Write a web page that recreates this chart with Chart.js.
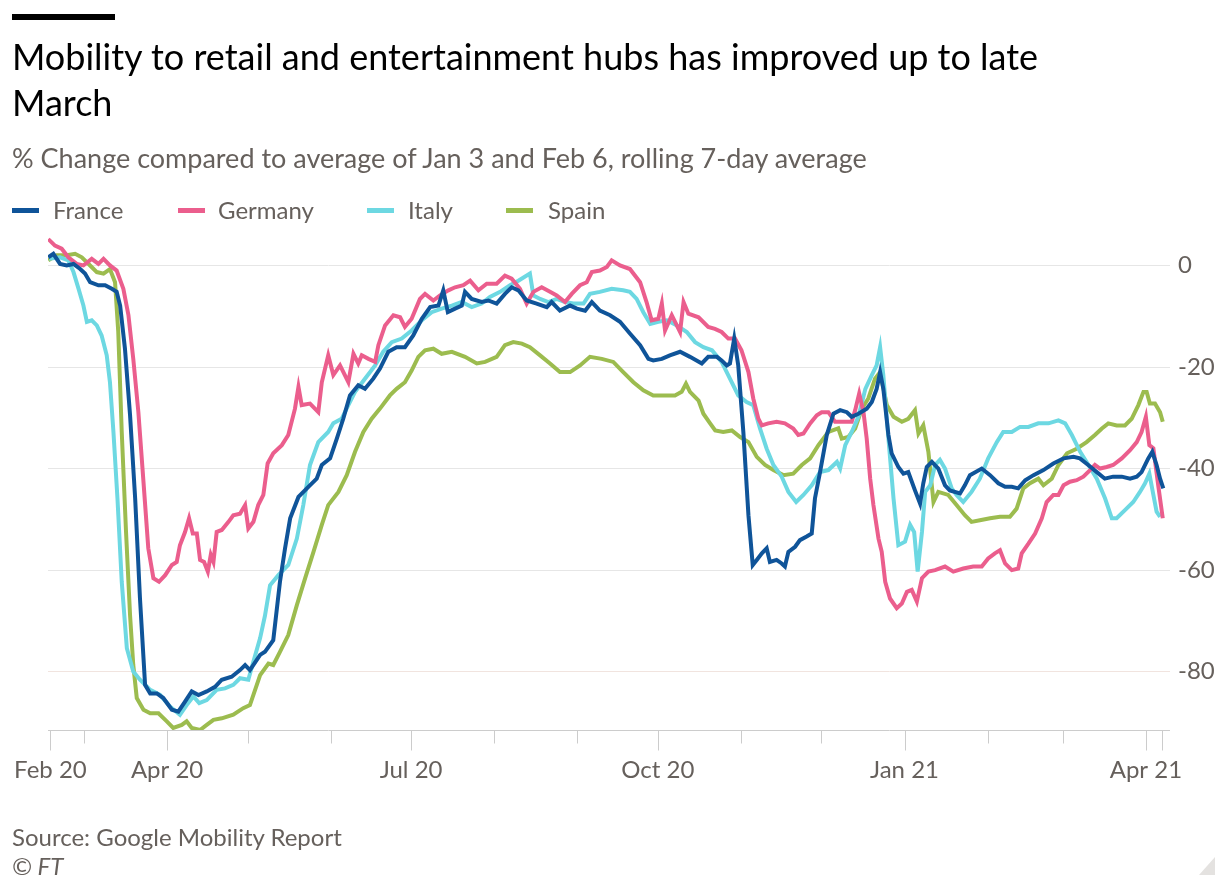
<!DOCTYPE html>
<html>
<head>
<meta charset="utf-8">
<script src="https://cdn.jsdelivr.net/npm/chart.js@4.4.1/dist/chart.umd.min.js"></script>
<style>
  body { margin: 0; background: #fff; width: 1217px; height: 879px; overflow: hidden; font-family: Lato, "Open Sans", sans-serif; }
  .abs { position: absolute; }
  .bar { left: 12px; top: 14px; width: 103px; height: 6px; background: #000; }
  .title { left: 12px; top: 33px; font-size: 36px; line-height: 46px; color: #000; }
  .sub { left: 12px; top: 141px; font-size: 27px; color: #66605c; }
  .legend { left: 12px; top: 195px; font-size: 24px; color: #66605c; }
  .legend span.item { position: absolute; white-space: nowrap; }
  .legend i { position: absolute; top: 13px; width: 27px; height: 5px; }
  .source { left: 12px; top: 822px; font-size: 24px; color: #66605c; }
  .ft { left: 12px; top: 851px; font-size: 24px; color: #66605c; font-style: italic; }
  .corner { right: 2px; bottom: 4px; width: 0; height: 0; border-left: 16px solid transparent; border-bottom: 18px solid #e4e2e0; }
  #box { position: absolute; left: 0; top: 0; width: 1217px; height: 879px; }
</style>
</head>
<body>
<div id="box"><canvas id="chart" width="1217" height="879"></canvas></div>
<div class="abs bar"></div>
<div class="abs title">Mobility to retail and entertainment hubs has improved up to late<br>March</div>
<div class="abs sub">% Change compared to average of Jan 3 and Feb 6, rolling 7-day average</div>
<div class="abs legend" id="legend"></div>
<div class="abs source">Source: Google Mobility Report</div>
<div class="abs ft">© FT</div>
<div class="abs corner"></div>
<script>
// days counted from 15 Feb 2020
const tickDays   = [2.5, 15, 46, 76, 107, 137, 168, 199, 229, 260, 290, 321, 352, 380, 411, 417];
const tickLabels = ['Feb 20', '', 'Apr 20', '', '', 'Jul 20', '', '', 'Oct 20', '', '', 'Jan 21', '', '', 'Apr 21', ''];
const majorTicks = [1, 0, 1, 0, 0, 1, 0, 0, 1, 0, 0, 1, 0, 0, 1, 1];
const yTicks = [0, -20, -40, -60, -80];

const countries = ['France', 'Germany', 'Italy', 'Spain'];
const colors    = ['#0f5499', '#eb5e8d', '#6dd8e2', '#9cbc4f'];

const franceDays = [1.7,3.6,6.1,8.6,11.1,13.6,15.4,17.3,20.4,22.9,25.4,27.2,28.5,30.3,32.2,34.1,35.9,37.8,39.7,42.2,44.6,47.8,50.2,52.7,55.2,57.7,60.8,63.9,66.4,70.1,73.2,75.1,76.9,80.7,82.5,85.6,88.1,90.0,91.9,95.0,98.7,101.8,103.7,106.8,109.3,111.7,114.2,117.3,119.8,122.9,125.4,128.5,131.6,134.7,137.8,141.0,144.1,147.2,149.0,150.7,153.4,155.9,157.1,159.6,163.3,165.8,168.9,172.0,174.5,177.0,180.1,183.8,187.6,189.4,192.5,196.3,198.8,201.9,204.4,207.4,211.2,214.9,218.6,222.4,225.5,227.3,230.5,233.5,237.3,241.0,245.4,247.8,251.0,252.8,254.7,255.9,257.5,259.0,260.9,262.8,264.4,265.9,267.8,269.6,270.8,273.3,275.2,276.4,277.7,280.2,282.0,284.5,286.4,287.6,289.5,292.0,294.5,297.0,299.5,301.3,303.8,306.9,308.8,310.6,311.9,313.1,315.0,316.2,318.7,320.6,322.4,324.9,326.8,328.0,329.3,331.2,333.6,336.1,337.9,341.7,343.5,345.4,349.8,352.9,356.0,358.5,361.0,363.4,366.0,369.1,372.8,376.5,380.3,384.0,386.4,389.5,392.7,395.7,398.8,402.0,405.1,407.6,409.4,411.9,413.4,415.0,416.3,417.5];
const franceValues = [1.6,2.3,0.3,0,0.3,-0.7,-1.6,-3.3,-3.9,-3.9,-4.6,-5.2,-7.9,-16.4,-29.5,-45.9,-65.6,-82.6,-84.3,-84.3,-85.2,-87.5,-87.9,-85.9,-83.9,-84.6,-83.9,-83,-81.6,-81,-79.7,-78.7,-79.7,-76.7,-76.1,-73.8,-62.3,-55.7,-49.8,-45.6,-43.6,-42,-39.3,-38,-34.1,-30.2,-25.6,-23.6,-24.3,-22.3,-20.3,-17,-16.1,-16.1,-13.8,-10.5,-8.2,-7.9,-4.9,-9.2,-8.5,-7.9,-5.2,-6.6,-7.2,-6.9,-7.5,-5.6,-4.3,-4.9,-6.9,-7.5,-8.2,-7.2,-8.9,-7.9,-8.5,-8.9,-7.2,-8.9,-9.8,-11.1,-13.4,-15.7,-18.4,-18.7,-18.4,-17.7,-17,-18,-19.3,-18,-18,-18.7,-19.7,-19.3,-14.4,-19.7,-32.8,-49.2,-59,-58,-56.7,-55.7,-58.4,-58,-58.7,-59.3,-56.4,-55.4,-54.1,-53.4,-52.8,-45.9,-40.7,-33.4,-29.2,-28.5,-28.9,-29.8,-29.2,-28.2,-26.9,-24.3,-21,-24.3,-33.4,-37,-39.7,-41,-40.7,-44.3,-46.9,-42.9,-39.7,-38.7,-40,-43.3,-44.3,-44.9,-43.3,-41.3,-40,-41.3,-42.9,-43.6,-43.6,-43.9,-42.3,-41.3,-40.3,-39,-38,-37.7,-38,-39.3,-40.7,-42,-41.6,-41.6,-42,-41.6,-40.7,-38,-36.7,-39.3,-42,-43.9];

const germanyDays = [1.7,4.2,6.7,9.2,12.3,14.8,17.9,20.4,22.3,24.7,27.2,29.7,31.6,33.4,35.3,37.2,39.0,40.9,43.0,45.3,47.8,49.6,50.8,52.7,54.2,55.6,57.1,58.3,59.8,61.2,62.3,63.3,64.5,66.4,68.9,70.7,73.2,75.1,76.3,78.2,80.0,81.9,83.5,85.6,88.8,91.2,93.7,95.0,96.2,99.3,102.4,103.7,106.1,108.0,110.5,113.6,115.5,117.3,118.6,121.1,123.6,124.8,127.3,130.4,132.9,134.7,137.2,140.3,142.2,145.3,147.8,150.9,153.4,156.5,159.0,162.1,165.2,168.9,172.0,174.5,177.6,180.1,182.6,185.7,188.8,191.3,194.4,196.9,200.0,202.5,204.4,207.4,210.0,211.8,214.9,218.6,222.4,224.8,226.7,229.2,230.5,231.7,234.2,237.3,238.6,240.4,244.2,247.8,250.3,252.8,255.3,257.8,260.2,262.8,264.6,266.5,267.8,270.2,273.3,276.4,279.5,281.4,283.3,285.8,288.3,290.1,292.6,295.1,298.2,301.3,302.6,304.1,305.7,306.9,308.2,309.4,311.3,312.5,313.8,315.6,318.1,320.0,321.9,323.7,325.6,327.5,329.9,332.4,336.1,339.2,342.9,346.6,349.8,352.2,354.7,356.6,358.5,361.0,363.4,364.7,367.2,369.7,372.2,374.0,376.5,378.4,380.3,382.7,385.2,387.7,390.2,392.0,393.9,396.4,398.8,402.0,405.1,407.6,409.4,411.0,412.3,413.8,415.6,417.3];
const germanyValues = [5.2,3.9,3.3,1.6,0.3,0,1.3,0.3,1.3,0,-1,-4.6,-9.8,-18.4,-28.9,-42.6,-55.7,-61.6,-62.3,-61,-59,-58.4,-55.1,-52.5,-49.8,-52.8,-52.8,-58,-58.4,-60.3,-57,-58.4,-52.5,-52.1,-50.5,-49.2,-48.9,-47.2,-51.8,-50.5,-47.2,-45.2,-39,-37,-35.4,-33.4,-28.2,-23.9,-27.5,-27.2,-28.9,-23,-17.7,-21.6,-19.7,-23,-17.4,-19.3,-17.7,-18.4,-19,-15.7,-11.8,-9.8,-10.2,-12.1,-10.5,-6.6,-5.6,-6.9,-5.9,-4.9,-4.3,-3.9,-3,-4.9,-3.6,-3.6,-2,-2.6,-4.6,-7.5,-5.2,-4.3,-5.2,-5.9,-7.2,-5.6,-3.9,-3.3,-1.3,-1,-0.3,1,0,-0.7,-3.3,-7.2,-10.8,-10.5,-7.5,-12.8,-9.8,-13.1,-7.2,-9.5,-10.2,-12.1,-12.5,-13.1,-14.4,-14.4,-16.7,-21,-26.2,-30.2,-31.5,-31.1,-30.8,-31.1,-32.1,-33.4,-33.1,-31.1,-29.5,-28.9,-28.9,-30.8,-30.8,-30.8,-28.5,-25.2,-28.9,-34.1,-42,-47.2,-53.8,-56.4,-62.3,-65.6,-67.5,-66.6,-64.3,-63.9,-66.2,-61.6,-60.3,-60,-59.3,-60.3,-59.7,-59.3,-59.3,-57.7,-56.7,-56.1,-58.7,-60,-59.7,-56.7,-54.8,-52.8,-49.8,-46.6,-45.2,-45.2,-43.3,-42.6,-42.3,-41.6,-40.3,-39.3,-40,-39.7,-39.3,-38,-36.4,-34.8,-32.8,-29.8,-35.4,-36,-43.3,-49.8];

const italyDays = [2.0,6.1,9.2,11.1,13.0,14.8,16.1,17.9,19.8,21.6,23.5,24.7,26.0,27.5,29.1,31.0,33.4,35.9,39.7,43.4,47.1,50.8,53.3,55.8,58.0,60.8,64.5,67.6,70.7,73.2,76.3,78.2,80.7,82.5,84.4,87.5,91.2,94.4,96.8,99.3,102.4,106.1,108.0,111.1,113.6,116.1,119.8,123.6,126.6,129.8,133.5,137.2,141.0,144.7,148.4,152.2,155.9,159.6,163.3,166.4,170.2,173.9,177.0,181.3,182.6,185.1,188.2,191.3,194.4,197.5,201.3,203.7,207.4,211.8,216.1,218.6,221.1,223.6,226.2,229.2,232.4,236.1,239.8,242.9,246.0,249.2,252.8,255.9,259.0,262.1,264.6,267.1,269.6,272.1,275.2,277.7,280.6,283.3,286.4,289.5,292.6,295.8,297.0,298.9,301.3,303.8,306.4,308.8,310.6,311.9,313.1,315.0,316.9,318.7,321.2,323.1,324.6,325.9,327.5,328.7,330.6,332.4,334.2,336.1,338.6,340.4,342.9,346.0,349.1,352.2,355.4,357.8,361.0,364.1,367.2,370.9,374.7,378.4,380.9,383.4,386.5,389.6,392.7,395.8,398.3,400.1,403.2,406.3,408.8,410.7,412.3,413.8,415.0,416.3];
const italyValues = [1.3,1.6,1,-1.3,-4.6,-7.9,-11.1,-10.8,-11.8,-13.8,-17.7,-23,-32.8,-45.9,-62.3,-75.4,-80,-81.6,-83.6,-84.6,-86.9,-88.5,-86.6,-84.9,-86.2,-85.6,-83.6,-83.3,-82.6,-81.3,-81.6,-78,-73.4,-69,-63,-61,-59,-53.8,-47.2,-39.3,-34.8,-32.8,-31.1,-30.2,-27.5,-24.9,-22.3,-19.7,-17,-15.1,-14.4,-12.8,-10.8,-9.2,-8.5,-7.9,-7.2,-8.2,-7.5,-6.2,-5.2,-3.9,-3,-1.6,-5.9,-6.6,-7.2,-6.6,-7.2,-7.5,-7.5,-5.6,-5.2,-4.6,-4.9,-5.2,-6.6,-9.2,-11.5,-11.1,-10.8,-11.8,-13.1,-15.1,-16.1,-16.7,-19,-22.3,-25.6,-26.9,-27.5,-32.1,-36.1,-39.3,-41.6,-44.6,-46.6,-45.2,-43.3,-40.7,-40.3,-38.7,-40,-35.4,-32.8,-29.8,-24.3,-21.6,-19.7,-16.1,-21.6,-34.1,-45.9,-55.1,-54.4,-51.1,-52.5,-60.3,-52.5,-44.6,-43.3,-39.3,-38.3,-40,-43.9,-45.2,-46.6,-44.6,-42,-38,-34.8,-32.8,-32.8,-31.8,-31.8,-31.1,-31.1,-30.5,-31.1,-33.4,-36.7,-39.3,-42,-45.9,-49.8,-49.8,-48.2,-46.6,-44.6,-42.9,-41,-45.2,-48.5,-49.5];

const spainDays = [1.7,4.8,8.6,11.7,14.2,17.3,19.8,22.3,24.7,26.6,27.8,29.1,30.7,32.2,33.4,34.7,37.2,39.7,42.8,45.9,48.3,51.5,53.3,55.2,58.3,60.8,63.3,66.4,70.7,74.4,76.9,80.7,83.8,85.6,88.1,91.2,94.4,97.5,100.6,103.7,106.1,109.9,113.0,116.1,119.2,122.3,125.4,129.1,131.6,134.7,137.2,139.7,142.2,145.3,148.4,152.2,157.1,161.5,164.6,168.9,172.0,175.1,178.3,181.3,185.1,188.8,192.5,196.3,200.0,203.7,208.1,212.4,216.1,219.9,223.6,227.3,231.0,235.4,237.9,239.5,241.0,244.2,246.0,248.5,250.4,253.4,256.6,259.7,262.8,265.9,269.0,272.1,275.8,279.5,282.7,285.8,288.9,292.6,296.3,297.6,300.0,302.6,305.1,307.5,310.0,311.9,314.4,316.9,320.0,322.4,324.9,326.2,328.0,329.9,331.8,333.6,337.3,340.4,343.5,346.0,349.1,352.9,356.6,360.3,362.8,365.3,367.8,370.9,372.8,375.9,378.4,381.6,385.2,388.9,392.0,394.6,397.0,400.1,403.2,405.7,408.2,410.1,411.3,412.5,414.4,416.3,417.3];
const spainValues = [1,2,2,2.3,1.6,0,-1.3,-1.6,-0.7,-3.3,-13.1,-32.8,-52.5,-68.9,-78.7,-85.2,-87.5,-88.2,-88.2,-89.8,-91.1,-90.5,-89.8,-91.1,-91.5,-90.5,-89.5,-89.2,-88.5,-87.2,-86.6,-80.7,-78.4,-78.7,-76.1,-72.8,-66.9,-61.6,-56.4,-51.1,-47.2,-44.6,-41.3,-36.7,-32.8,-30.2,-28.2,-25.6,-24.3,-23,-20.7,-18,-16.7,-16.4,-17.4,-17,-18,-19.3,-19,-18,-15.7,-15.1,-15.4,-16.1,-17.7,-19.3,-21,-21,-19.7,-18,-18.4,-19,-21,-23,-24.6,-25.6,-25.6,-25.6,-24.9,-23.3,-24.9,-26.6,-29.2,-31.1,-32.5,-32.8,-32.5,-33.8,-34.8,-37.7,-39.3,-40.3,-41.3,-41,-39.3,-38,-35.4,-32.8,-32.1,-34.1,-33.8,-32.1,-28.2,-26.2,-22.3,-21,-27.5,-29.8,-30.8,-30.2,-28.5,-33.1,-31.5,-36.7,-46.6,-44.6,-45.2,-47.2,-49.2,-50.5,-50.2,-49.8,-49.5,-49.5,-47.9,-43.9,-42.9,-42,-43.3,-42,-39.3,-37,-36.1,-34.8,-33.4,-32.1,-31.1,-31.5,-31.5,-30.2,-27.5,-24.9,-24.9,-27.2,-27.2,-28.9,-30.8];

const seriesDays   = [franceDays, germanyDays, italyDays, spainDays];
const seriesValues = [franceValues, germanyValues, italyValues, spainValues];

// legend
const legendPos = [[0, 41], [166, 206], [355, 396], [494, 536]];
const legendEl = document.getElementById('legend');
countries.forEach((name, i) => {
  const swatch = document.createElement('i');
  swatch.style.left = (legendPos[i][0]) + 'px';
  swatch.style.background = colors[i];
  legendEl.appendChild(swatch);
  const label = document.createElement('span');
  label.className = 'item';
  label.style.left = legendPos[i][1] + 'px';
  label.textContent = name;
  legendEl.appendChild(label);
});

const axisTicks = {
  id: 'axisTicks',
  afterDraw(chart) {
    const { ctx, chartArea, scales: { x } } = chart;
    ctx.save();
    ctx.strokeStyle = '#cccccc';
    ctx.lineWidth = 1;
    ctx.beginPath();
    const yb = Math.round(chartArea.bottom) + 0.5;
    ctx.moveTo(chartArea.left, yb);
    ctx.lineTo(chartArea.right, yb);
    tickDays.forEach((d, i) => {
      const px = Math.round(x.getPixelForValue(d)) + 0.5;
      ctx.moveTo(px, yb);
      ctx.lineTo(px, yb + (majorTicks[i] ? 20 : 13));
    });
    ctx.stroke();
    ctx.restore();
  }
};

const ctx = document.getElementById('chart').getContext('2d');
const chart = new Chart(ctx, {
  type: 'line',
  data: {
    datasets: countries.map((name, i) => ({
      label: name,
      data: seriesDays[i].map((d, j) => ({ x: d, y: seriesValues[i][j] })),
      borderColor: colors[i],
      borderWidth: 4,
      pointRadius: 0,
      tension: 0,
      fill: false
    }))
  },
  plugins: [axisTicks],
  options: {
    responsive: false,
    animation: false,
    layout: { padding: { left: 48, top: 235, right: 0, bottom: 79 } },
    plugins: { legend: { display: false }, tooltip: { enabled: false } },
    scales: {
      x: {
        type: 'linear',
        min: 1.6,
        max: 420,
        afterBuildTicks: (scale) => { scale.ticks = tickDays.map(v => ({ value: v })); },
        afterFit: (scale) => { scale.height = 70; scale.paddingLeft = 0; scale.paddingRight = 0; },
        grid: { display: false, drawTicks: false },
        border: { display: false },
        ticks: {
          autoSkip: false,
          maxRotation: 0,
          minRotation: 0,
          padding: 26,
          color: '#66605c',
          font: { family: 'Lato', size: 24 },
          callback: (v, i) => tickLabels[i]
        }
      },
      y: {
        position: 'right',
        min: -91.5,
        max: 6,
        afterBuildTicks: (scale) => { scale.ticks = yTicks.map(v => ({ value: v })); },
        afterFit: (scale) => { scale.width = 47; scale.paddingTop = 0; scale.paddingBottom = 0; },
        grid: {
          drawTicks: false,
          color: (c) => c.tick && c.tick.value === -80 ? '#f1e4df' : '#e6e6e6',
          lineWidth: 1
        },
        border: { display: false },
        ticks: {
          padding: 8,
          color: '#66605c',
          font: { family: 'Lato', size: 24 }
        }
      }
    }
  }
});
</script>
</body>
</html>
